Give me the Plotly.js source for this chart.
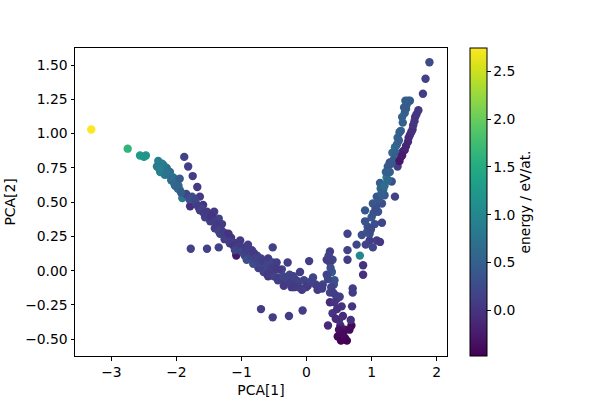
<!DOCTYPE html>
<html>
<head>
<meta charset="utf-8">
<script src="https://cdn.plot.ly/plotly-3.0.1.min.js"></script>
<style>html,body{margin:0;padding:0;background:#fff;}#chart{width:600px;height:400px;}</style>
</head>
<body>
<div id="chart"></div>
<script>
// PCA[1] values
const pca1 = [
  -3.31,-2.75,-2.56,-2.50,-2.47,
  -2.28,-2.30,-2.25,-2.18,-2.15,-2.10,-2.05,-2.00,-1.98,-1.95,-1.91,-2.20,-2.02,-1.95,
  -1.88,-1.82,-1.75,-1.68,-1.79,-1.85,
  -1.76,-1.64,-1.70,-1.59,-1.64,-1.53,-1.56,-1.45,-1.48,-1.39,-1.41,-1.32,-1.33,-1.24,-1.26,-1.16,-1.18,-1.10,-1.08,-1.08,-1.42,-1.35,-1.30,
  -1.78,-1.53,-1.35,
  -1.02,-0.98,-0.95,-0.90,-0.87,-0.84,-0.79,-0.76,-0.70,-0.69,-0.64,-0.59,-0.56,-0.52,-0.52,-0.46,-0.49,-0.41,-0.38,-0.33,-0.29,-0.26,-0.23,-0.16,-0.13,-0.10,-0.07,-0.01,0.04,0.10,0.14,0.17,0.25,-0.59,-0.74,
  -0.70,-0.52,-0.27,-0.06,
  0.36,0.31,0.40,0.36,0.39,0.31,0.43,0.24,0.36,0.45,0.48,0.36,0.54,0.40,0.56,0.33,0.52,0.59,0.48,0.62,0.59,0.53,0.69,0.66,0.50,0.51,0.42,
  0.63,0.63,0.63,0.71,0.71,0.70,0.68,
  0.77,0.82,0.85,0.87,0.87,0.90,0.94,0.97,1.00,1.05,1.08,1.02,1.13,1.08,1.02,1.16,1.16,1.08,1.13,1.18,1.23,1.28,1.22,1.31,1.36,1.40,1.25,1.32,1.36,1.40,1.43,1.48,1.51,1.54,1.59,1.52,1.14,1.20,1.10,0.97,0.91,
  1.45,1.48,1.51,1.56,1.59,1.63,1.64,1.67,1.72,
  1.79,1.83,1.89,
  -2.22,-2.12,-2.08,-2.03,-2.16,-2.26,-1.97,-1.93,
  -1.80,-1.72,-1.67,-1.61,-1.58,-1.51,-1.47,-1.43,-1.37,-1.35,-1.28,-1.22,-1.20,-1.14,-1.12,-1.05,-1.10,
  -1.00,-0.93,-0.92,-0.85,-0.81,-0.82,-0.78,-0.72,-0.67,-0.66,-0.61,-0.60,-0.54,-0.50,-0.44,-0.44,-0.36,-0.35,-0.30,-0.24,-0.20,-0.19,-0.12,-0.04,0.02,0.06,0.21,
  0.34,0.37,0.33,0.38,0.41,0.43,0.47,0.45,0.50,0.56,
  0.90,0.93,0.99,1.03,1.06,1.11,1.15,1.20,1.25,1.28,1.30,1.34,1.37,1.39,1.42,1.45,1.47,1.50,1.56,1.53,
  1.43,1.47,1.53,1.57,1.61,1.66,1.69
];
// PCA[2] values
const pca2 = [
  1.03,0.89,0.84,0.83,0.84,
  0.80,0.76,0.72,0.70,0.75,0.72,0.68,0.65,0.60,0.59,0.53,0.77,0.62,0.67,
  0.83,0.76,0.69,0.61,0.47,0.56,
  0.54,0.54,0.49,0.48,0.44,0.43,0.39,0.39,0.36,0.35,0.31,0.30,0.27,0.27,0.23,0.24,0.20,0.20,0.13,0.11,0.43,0.38,0.34,
  0.16,0.16,0.17,
  0.22,0.17,0.11,0.19,0.09,0.15,0.06,0.11,0.09,0.03,0.03,0.09,-0.01,0.06,0.17,0.06,0.01,-0.05,0.01,-0.09,0.06,-0.03,-0.12,-0.07,-0.08,-0.01,-0.14,-0.12,0.07,-0.05,-0.10,-0.14,-0.10,-0.04,0.02,
  -0.28,-0.34,-0.33,-0.29,
  0.14,0.08,0.08,0.06,-0.01,-0.03,-0.07,-0.13,-0.16,-0.18,-0.20,-0.23,-0.26,-0.31,-0.33,-0.40,-0.40,-0.43,-0.48,-0.51,-0.49,-0.51,-0.40,-0.43,-0.36,-0.19,-0.10,
  0.27,0.15,0.08,-0.13,-0.16,-0.26,-0.36,
  0.19,0.11,0.26,0.04,-0.03,0.44,0.32,0.22,0.39,0.34,0.22,0.17,0.21,0.48,0.49,0.49,0.35,0.54,0.64,0.59,0.68,0.79,0.72,0.65,0.54,0.76,0.76,0.86,0.90,0.97,1.01,1.08,1.15,1.21,1.24,1.24,0.60,0.55,0.43,0.27,0.19,
  0.83,0.87,0.88,0.94,0.99,1.03,1.06,1.12,1.17,
  1.29,1.40,1.52,
  0.78,0.70,0.66,0.63,0.72,0.74,0.62,0.57,
  0.52,0.52,0.47,0.45,0.42,0.40,0.40,0.36,0.33,0.29,0.28,0.24,0.27,0.21,0.18,0.18,0.15,
  0.14,0.15,0.08,0.11,0.13,0.05,0.09,0.05,0.07,-0.01,0.04,-0.03,0.02,-0.04,0.01,-0.07,-0.04,-0.11,-0.06,-0.09,-0.04,-0.12,-0.12,-0.07,-0.11,-0.08,-0.12,
  0.11,0.02,-0.06,-0.12,-0.16,-0.23,-0.28,-0.35,-0.43,-0.46,
  0.36,0.28,0.30,0.42,0.45,0.52,0.56,0.62,0.66,0.72,0.78,0.81,0.86,0.92,0.95,1.02,1.12,1.19,1.24,1.18,
  0.80,0.84,0.91,0.97,1.01,1.09,1.14
];
// energy / eV/at.
const energy = [
  2.74,1.62,1.28,1.22,1.18,
  0.90,0.85,0.95,0.80,0.70,0.65,0.70,0.60,0.55,0.75,0.80,0.75,0.50,0.45,
  0.15,0.12,0.10,0.05,-0.05,0.20,
  0.25,0.05,0.15,0.00,0.10,0.05,0.15,0.00,0.12,0.05,0.10,0.00,0.15,0.05,0.10,0.00,0.10,0.05,-0.25,-0.30,0.05,0.15,0.10,
  0.15,0.15,0.15,
  0.05,0.10,0.15,0.10,0.25,0.10,0.30,0.15,0.20,0.25,0.10,0.10,0.05,0.20,0.15,0.10,0.00,0.05,0.15,0.10,0.10,0.20,0.05,0.10,0.15,0.10,0.05,0.15,0.10,0.20,0.10,0.05,0.15,0.00,0.10,
  0.10,0.10,0.10,0.10,
  0.10,0.10,0.20,0.10,0.40,0.15,0.35,0.10,0.15,0.20,0.15,-0.10,0.00,0.00,-0.10,-0.10,-0.15,-0.30,-0.42,-0.47,-0.45,-0.46,-0.42,-0.40,-0.05,0.10,0.30,
  0.15,0.15,0.10,0.10,0.10,0.00,-0.05,
  0.20,1.00,0.30,0.00,-0.05,0.40,0.30,0.10,0.40,0.30,0.10,0.20,0.05,0.30,0.40,0.30,0.20,0.40,0.50,0.60,0.90,0.30,0.50,0.30,0.15,0.10,0.40,0.60,0.70,0.55,0.50,0.50,0.50,0.45,0.45,0.45,0.55,0.40,0.35,0.25,0.15,
  -0.25,-0.20,-0.15,-0.10,-0.05,-0.05,0.00,0.00,0.05,
  0.10,0.15,0.25,
  0.85,0.70,0.65,0.60,0.75,0.90,0.55,0.45,
  0.30,0.20,0.10,0.15,0.05,0.10,0.00,0.10,0.05,0.15,0.10,0.15,0.00,0.10,0.00,0.05,0.20,
  0.20,0.10,0.30,0.20,0.05,0.25,0.15,0.20,0.10,0.15,0.20,0.05,0.10,0.15,0.05,0.10,0.20,0.05,0.15,0.10,0.15,0.05,0.10,0.15,0.05,0.15,0.10,
  0.15,0.30,0.20,0.15,0.10,0.00,-0.05,-0.10,-0.35,-0.40,
  0.35,0.30,0.25,0.35,0.30,0.40,0.50,0.65,0.60,0.50,0.40,0.45,0.50,0.55,0.50,0.50,0.50,0.45,0.45,0.45,
  -0.30,-0.25,-0.15,-0.10,-0.05,0.00,0.00
];
const cbTicks = [0.0, 0.5, 1.0, 1.5, 2.0, 2.5];
const cbTickText = ['0.0', '0.5', '1.0', '1.5', '2.0', '2.5'];
const xTicks = [-3, -2, -1, 0, 1, 2];
const yTicks = [-0.5, -0.25, 0, 0.25, 0.5, 0.75, 1.0, 1.25, 1.5];

const font = {family: 'DejaVu Sans, sans-serif', size: 13.9, color: '#000'};

const trace = {
  type: 'scatter',
  mode: 'markers',
  x: pca1,
  y: pca2,
  marker: {
    size: 8.4,
    color: energy,
    colorscale: 'Viridis',
    cmin: -0.48,
    cmax: 2.745,
    line: {width: 0},
    colorbar: {
      x: 1.062, xanchor: 'left', xref: 'paper',
      y: 0.5, yanchor: 'middle', len: 1, lenmode: 'fraction',
      thickness: 17, thicknessmode: 'pixels',
      outlinewidth: 1, outlinecolor: '#000',
      ticks: 'outside', ticklen: 3.5, tickwidth: 1, tickcolor: '#000',
      tickvals: cbTicks, ticktext: cbTickText,
      tickfont: font,
      xpad: 0, ypad: 0,
      title: {text: 'energy / eV/at.', side: 'right', font: font}
    }
  },
  hoverinfo: 'skip'
};

const axisCommon = {
  showgrid: false, zeroline: false,
  showline: true, linecolor: '#000', linewidth: 1, mirror: true,
  ticks: 'outside', ticklen: 3.5, tickwidth: 1, tickcolor: '#000',
  tickfont: font
};

const layout = {
  width: 600, height: 400,
  margin: {l: 75, r: 153, t: 48, b: 44},
  paper_bgcolor: '#fff', plot_bgcolor: '#fff',
  font: font,
  showlegend: false,
  xaxis: Object.assign({}, axisCommon, {
    range: [-3.56, 2.16], tickvals: xTicks, ticktext: xTicks.map(v => v < 0 ? '\u2212' + Math.abs(v) : String(v)),
    title: {text: 'PCA[1]', font: font, standoff: 6}
  }),
  yaxis: Object.assign({}, axisCommon, {
    range: [-0.622, 1.624], tickvals: yTicks, tickformat: '.2f',
    title: {text: 'PCA[2]', font: font, standoff: 6}
  })
};

Plotly.newPlot('chart', [trace], layout, {staticPlot: true, displayModeBar: false});
</script>
</body>
</html>
